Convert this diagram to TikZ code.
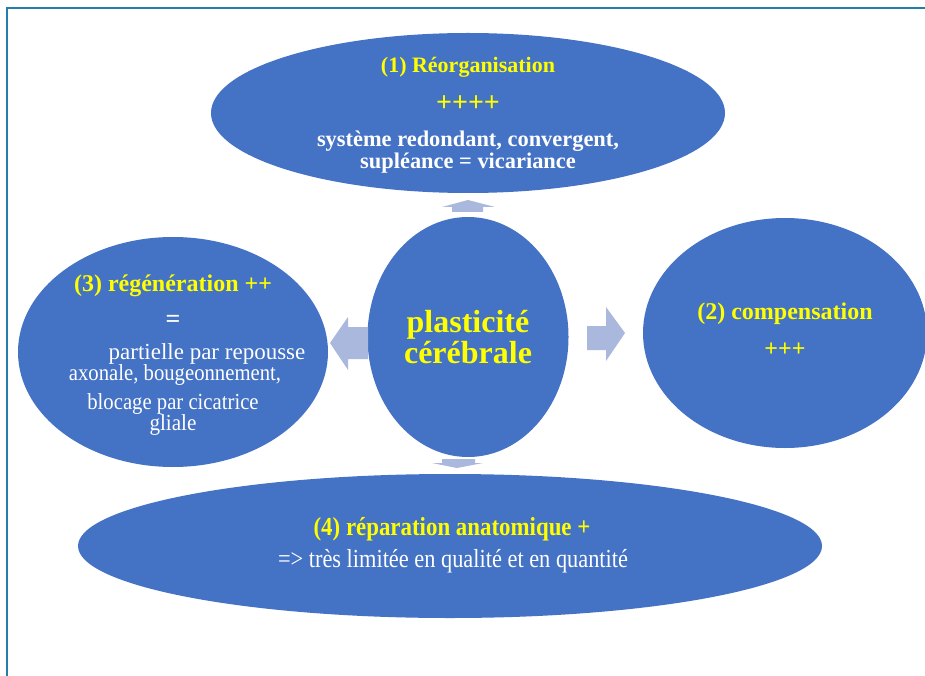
\documentclass[tikz,border=0pt]{standalone}
\usepackage{fontspec}
\setmainfont{Liberation Serif}
\usetikzlibrary{shapes.geometric}
\definecolor{ellblue}{RGB}{68,114,196}
\definecolor{arrblue}{RGB}{169,184,220}
\definecolor{framec}{RGB}{34,128,168}
\definecolor{ylw}{RGB}{255,255,0}
\tikzset{
  bubble/.style={ellipse, fill=ellblue, draw=none, inner sep=0pt},
  blockarrow/.style={fill=arrblue, draw=none},
  ytext/.style={text=ylw, font=\bfseries, anchor=base, inner sep=0pt},
  wtextb/.style={text=white, font=\bfseries, anchor=base, inner sep=0pt},
  wtext/.style={text=white, anchor=base, inner sep=0pt},
}
\newcommand{\fsz}[1]{\fontsize{#1}{#1}\selectfont}
\begin{document}
\begin{tikzpicture}[x=1pt,y=-1pt]
\useasboundingbox (0,0) rectangle (925,676);
\fill[white] (0,0) rectangle (925,676);
\begin{scope}
\clip (0,0) rectangle (925,676);
% ellipses
\node[bubble, minimum width=514, minimum height=160] (reorg) at (468,113) {};
\node[bubble, minimum width=310, minimum height=230] (regen) at (173,352) {};
\node[bubble, minimum width=284, minimum height=230] (comp) at (785,333) {};
\node[bubble, minimum width=744, minimum height=144] (repar) at (450,546) {};
\node[bubble, minimum width=201, minimum height=240] (plast) at (468,337) {};
% block arrows
\fill[blockarrow] (468,200) -- (495,207) -- (483,207) -- (483,212) -- (452,212) -- (452,207) -- (442,207) -- cycle;
\fill[blockarrow] (330,343) -- (348,317) -- (348,327) -- (368,327) -- (368,359) -- (348,359) -- (348,370) -- cycle;
\fill[blockarrow] (625,333) -- (606,307) -- (606,326) -- (587,326) -- (587,350) -- (606,350) -- (606,361) -- cycle;
\fill[blockarrow] (457,468) -- (483,463) -- (475,463) -- (475,459) -- (442,459) -- (442,463) -- (432,463) -- cycle;
\end{scope}
% frame
\draw[framec, line width=2pt] (925,8) -- (7,8) -- (7,676);
% texts: top
\node[ytext, font=\bfseries\fsz{22}] (t1a) at (468,73) {(1) Réorganisation};
\node[ytext, font=\bfseries\fsz{28}] (t1b) at (468,112) {++++};
\node[wtextb, font=\bfseries\fsz{22.4}] (t1c) at (468,147) {système redondant, convergent,};
\node[wtextb, font=\bfseries\fsz{22.4}] (t1d) at (468,169) {supléance = vicariance};
% centre
\node[ytext, font=\bfseries\fsz{32}] (tpa) at (468,332) {plasticité};
\node[ytext, font=\bfseries\fsz{32}] (tpb) at (468,363) {cérébrale};
% left
\node[ytext, font=\bfseries\fsz{24}] (t3a) at (173,291) {(3) régénération ++};
\node[wtextb, font=\bfseries\fsz{26}] (t3b) at (173,327) {=};
\node[wtext, font=\fsz{23}] (t3c) at (207,359) {partielle par repousse};
\node[wtext, font=\fsz{23}] (t3d) at (175,380) {\scalebox{0.9}[1]{axonale, bougeonnement,}};
\node[wtext, font=\fsz{23}] (t3e) at (173,409) {\scalebox{0.9}[1]{blocage par cicatrice}};
\node[wtext, font=\fsz{23}] (t3f) at (173,430) {\scalebox{0.92}[1]{gliale}};
% right
\node[ytext, font=\bfseries\fsz{24}] (t2a) at (785,319) {(2) compensation};
\node[ytext, font=\bfseries\fsz{24}] (t2b) at (785,356) {+++};
% bottom
\node[ytext, font=\bfseries\fsz{26}] (t4a) at (452,535) {\scalebox{0.88}[1]{(4) réparation anatomique +}};
\node[wtext, font=\fsz{26}] (t4b) at (453,567) {\scalebox{0.86}[1]{=> très limitée en qualité et en quantité}};
\end{tikzpicture}
\end{document}
